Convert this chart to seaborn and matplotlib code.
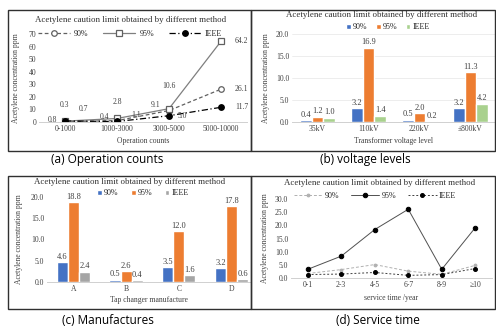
import matplotlib
matplotlib.use("Agg")
import matplotlib.pyplot as plt
import seaborn as sns
import pandas as pd
from matplotlib.patches import Rectangle

sns.set_theme(style="white")
plt.rcParams['font.family'] = ['Liberation Serif', 'DejaVu Serif']

W, H = 496, 331
TITLE = "Acetylene caution limit obtained by different method"
YLAB = "Acetylene concentration ppm"
SERIES = ["90%", "95%", "IEEE"]

# (a) operation counts
ops_cats = ["0-1000", "1000-3000", "3000-5000", "5000-10000"]
ops_90 = [0.3, 1.1, 9.1, 26.1]
ops_95 = [0.7, 2.8, 10.6, 64.2]
ops_ieee = [0.8, 0.4, 5.0, 11.7]

# (b) voltage levels
volt_cats = ["35kV", "110kV", "220kV", "±800kV"]
volt_90 = [0.4, 3.2, 0.5, 3.2]
volt_95 = [1.2, 16.9, 2.0, 11.3]
volt_ieee = [1.0, 1.4, 0.2, 4.2]

# (c) manufactures
man_cats = ["A", "B", "C", "D"]
man_90 = [4.6, 0.5, 3.5, 3.2]
man_95 = [18.8, 2.6, 12.0, 17.8]
man_ieee = [2.4, 0.4, 1.6, 0.6]

# (d) service time
svc_cats = ["0-1", "2-3", "4-5", "6-7", "8-9", "≥10"]
svc_90 = [1.7, 3.2, 5.1, 2.6, 1.4, 4.8]
svc_95 = [3.3, 8.3, 18.4, 26.1, 3.3, 19.1]
svc_ieee = [1.3, 1.5, 2.1, 1.0, 1.3, 3.6]

TICK_FS = 5.5
LAB_FS = 5.5
TITLE_FS = 6.4
LEG_FS = 5.8
VAL_FS = 6

fig = plt.figure(figsize=(W / 100, H / 100), dpi=100)


def ax_px(x0, x1, ytop, ybot):
    return fig.add_axes([x0 / W, 1 - ybot / H, (x1 - x0) / W, (ybot - ytop) / H])


def fx(x):
    return x / W


def fy(y):
    return 1 - y / H


def style_axes(ax, grid=False):
    for s in ["top", "right", "left"]:
        ax.spines[s].set_visible(False)
    ax.spines["bottom"].set_color("#d0d0d0")
    ax.spines["bottom"].set_linewidth(0.7)
    ax.tick_params(axis="both", length=0, labelsize=TICK_FS, pad=2, colors="#404040")
    ax.set_facecolor("none")
    if grid:
        ax.yaxis.grid(True, color="#e6e6e6", lw=0.5)
        ax.set_axisbelow(True)
    else:
        ax.grid(False)


def box(x0, x1, y0, y1):
    fig.patches.append(Rectangle((fx(x0), fy(y1)), (x1 - x0) / W, (y1 - y0) / H,
                                 transform=fig.transFigure, fill=False,
                                 ec="#303030", lw=1.0))


box(8, 251, 10, 151)
box(251, 495, 10, 151)
box(8, 251, 176, 309)
box(251, 495, 176, 309)

# ---------- (a) ----------
axa = ax_px(39, 247, 34, 122)
dfa = pd.DataFrame({"cat": ops_cats * 3,
                    "val": ops_90 + ops_95 + ops_ieee,
                    "series": [s for s in SERIES for _ in ops_cats]})
styles_a = {
    "90%": dict(color="#606060", ls=(0, (3, 2)), marker="o", mfc="white", mec="#606060", ms=4, mew=0.9),
    "95%": dict(color="#7f7f7f", ls="-", marker="s", mfc="white", mec="#606060", ms=4, mew=0.9),
    "IEEE": dict(color="#000000", ls=(0, (5, 2, 1, 2)), marker="o", mfc="black", mec="black", ms=4, mew=0.9),
}
for s in SERIES:
    st = styles_a[s]
    sns.lineplot(data=dfa[dfa.series == s], x="cat", y="val", ax=axa, sort=False,
                 color=st["color"], linestyle=st["ls"], marker=st["marker"],
                 markerfacecolor=st["mfc"], markeredgecolor=st["mec"],
                 markersize=st["ms"], markeredgewidth=st["mew"], lw=0.9, label=s)
axa.set_ylim(0, 70)
axa.set_xlim(-0.5, 3.5)
axa.set_yticks(range(0, 71, 10))
axa.set_xlabel("Operation counts", fontsize=LAB_FS, labelpad=3, color="#404040")
axa.set_ylabel(YLAB, fontsize=LAB_FS, labelpad=6, color="#404040")
style_axes(axa)
axa.legend(loc="center", bbox_to_anchor=(fx(130), fy(34)), bbox_transform=fig.transFigure,
           ncol=3, fontsize=LEG_FS, frameon=False, handlelength=4.0, columnspacing=1.8,
           handletextpad=0.5)
fig.text(fx(131), fy(20), TITLE, ha="center", va="center", fontsize=TITLE_FS, color="#303030")
# value labels (a)
offs_a = {"90%": [(0, 12), (10, 4), (-10, 4), (10, 0)],
          "95%": [(10, 9), (0, 12), (0, 16), (10, 0)],
          "IEEE": [(-9, 1), (-9, 3), (6, 0), (10, 0)]}
ser_a = {"90%": ops_90, "95%": ops_95, "IEEE": ops_ieee}
for s in SERIES:
    for i, v in enumerate(ser_a[s]):
        dx, dy = offs_a[s][i]
        axa.annotate(f"{v:.1f}", (i, v), xytext=(dx, dy), textcoords="offset points",
                     ha="left" if dx >= 6 else "center", va="center", fontsize=5.5, color="#404040")

# ---------- bar helper ----------
def bar_panel(ax, cats, v90, v95, vie, palette, width, grid):
    df = pd.DataFrame({"cat": cats * 3, "val": v90 + v95 + vie,
                       "series": [s for s in SERIES for _ in cats]})
    sns.barplot(data=df, x="cat", y="val", hue="series", palette=palette, ax=ax,
                width=width, saturation=1, errorbar=None, legend=True)
    for c in ax.containers:
        ax.bar_label(c, fmt="%.1f", fontsize=VAL_FS, padding=1, color="#404040")
    ax.set_ylim(0, 20)
    ax.set_yticks([0, 5, 10, 15, 20])
    ax.set_yticklabels([f"{v:.1f}" for v in [0, 5, 10, 15, 20]])
    style_axes(ax, grid)


# ---------- (b) ----------
axb = ax_px(292, 495, 34, 122)
bar_panel(axb, volt_cats, volt_90, volt_95, volt_ieee, ["#4472c4", "#ed7d31", "#a9d18e"], 0.7, True)
axb.set_xlim(-0.5, 3.48)
axb.set_xlabel("Transformer voltage level", fontsize=LAB_FS, labelpad=3, color="#404040")
axb.set_ylabel(YLAB, fontsize=LAB_FS, labelpad=4, color="#404040")
axb.legend(loc="center", bbox_to_anchor=(fx(388), fy(27)), bbox_transform=fig.transFigure,
           ncol=3, fontsize=LEG_FS, frameon=False, handlelength=0.6, handleheight=0.6,
           columnspacing=1.0, handletextpad=0.3)
fig.text(fx(382), fy(15), TITLE, ha="center", va="center", fontsize=TITLE_FS, color="#303030")

# ---------- (c) ----------
axc = ax_px(47, 251, 197, 282)
bar_panel(axc, man_cats, man_90, man_95, man_ieee, ["#4472c4", "#ed7d31", "#a5a5a5"], 0.63, False)
axc.set_xlim(-0.5, 3.37)
axc.set_xlabel("Tap changer manufacture", fontsize=LAB_FS, labelpad=2, color="#404040")
axc.set_ylabel(YLAB, fontsize=LAB_FS, labelpad=6, color="#404040")
axc.legend(loc="center", bbox_to_anchor=(fx(143), fy(193)), bbox_transform=fig.transFigure,
           ncol=3, fontsize=LEG_FS, frameon=False, handlelength=0.6, handleheight=0.6,
           columnspacing=1.5, handletextpad=0.3)
fig.text(fx(130), fy(182), TITLE, ha="center", va="center", fontsize=TITLE_FS, color="#303030")

# ---------- (d) ----------
axd = ax_px(291, 492, 199, 278)
dfd = pd.DataFrame({"cat": svc_cats * 3,
                    "val": svc_90 + svc_95 + svc_ieee,
                    "series": [s for s in SERIES for _ in svc_cats]})
styles_d = {
    "90%": dict(color="#b0b0b0", ls=(0, (3, 2)), marker="o", mfc="#b0b0b0", mec="#b0b0b0", ms=2),
    "95%": dict(color="#505050", ls="-", marker="o", mfc="black", mec="black", ms=3.2),
    "IEEE": dict(color="#404040", ls=(0, (2, 2)), marker="o", mfc="black", mec="black", ms=2.8),
}
for s in SERIES:
    st = styles_d[s]
    sns.lineplot(data=dfd[dfd.series == s], x="cat", y="val", ax=axd, sort=False,
                 color=st["color"], linestyle=st["ls"], marker=st["marker"],
                 markerfacecolor=st["mfc"], markeredgecolor=st["mec"],
                 markersize=st["ms"], lw=0.7, label=s)
axd.set_ylim(0, 30)
axd.set_xlim(-0.5, 5.5)
axd.set_yticks(range(0, 31, 5))
axd.set_yticklabels([f"{v:.1f}" for v in range(0, 31, 5)])
axd.set_xlabel("service time /year", fontsize=LAB_FS, labelpad=4, color="#404040")
axd.set_ylabel(YLAB, fontsize=LAB_FS, labelpad=4, color="#404040")
style_axes(axd)
axd.legend(loc="center", bbox_to_anchor=(fx(375), fy(196)), bbox_transform=fig.transFigure,
           ncol=3, fontsize=LEG_FS, frameon=False, handlelength=3.5, columnspacing=1.5,
           handletextpad=0.3)
fig.text(fx(380), fy(183), TITLE, ha="center", va="center", fontsize=TITLE_FS, color="#303030")

# ---------- captions ----------
cap_font = dict(family=["Open Sans", "DejaVu Sans"], fontsize=8.5, color="black",
                ha="center", va="center")
fig.text(fx(107), fy(160), "(a) Operation counts", **cap_font)
fig.text(fx(365), fy(160), "(b) voltage levels", **cap_font)
fig.text(fx(108), fy(321), "(c) Manufactures", **cap_font)
fig.text(fx(378), fy(321), "(d) Service time", **cap_font)

fig.savefig("out.png", dpi=100, facecolor="white")
